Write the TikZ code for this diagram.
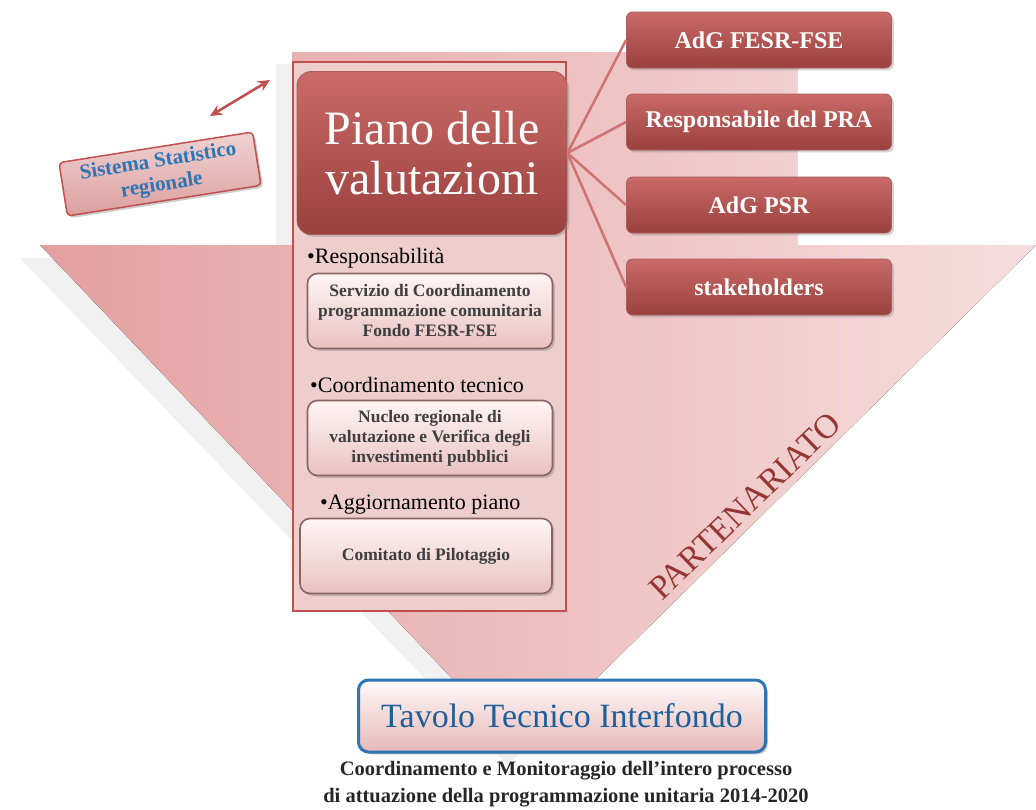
\documentclass[tikz,border=0pt]{standalone}
\usepackage{fontspec}
\setmainfont{Liberation Serif}
\usetikzlibrary{shadows,arrows.meta}
\definecolor{redmain}{HTML}{C0504D}
\definecolor{reddark}{HTML}{943634}
\definecolor{pinkL}{HTML}{E4A0A0}
\definecolor{pinkR}{HTML}{F6DEDE}
\definecolor{bluetxt}{HTML}{2E75B6}
\definecolor{bluedark}{HTML}{1F5F99}
\definecolor{subtxt}{HTML}{3F3F3F}
\tikzset{
  redbox/.style={rounded corners=6pt, draw=reddark!80, line width=0.8pt,
    top color=redmain!85!white, bottom color=redmain!80!black,
    text=white, align=center, drop shadow={opacity=0.35}},
  piano/.style={redbox, minimum width=270pt, minimum height=163pt,
    rounded corners=14pt, font=\fontsize{48}{50}\selectfont},
  rbox/.style={redbox, minimum width=265pt, minimum height=56pt,
    font=\fontsize{24}{26}\selectfont\bfseries},
  subbox/.style={rounded corners=10pt, draw=reddark!60!black!70, line width=1.6pt,
    top color=white!85!pink, bottom color=redmain!35!white,
    text=subtxt, align=center, minimum width=245pt, minimum height=75pt, inner sep=2pt,
    font=\fontsize{17.5}{20}\selectfont\bfseries, drop shadow={opacity=0.4}},
  bullet/.style={anchor=west, font=\fontsize{22}{24}\selectfont, text=black, inner sep=0pt},
  conn/.style={draw=redmain!80!white, line width=2.5pt},
}
\begin{document}
\begin{tikzpicture}[x=1pt,y=-1pt]
\useasboundingbox (0,0) rectangle (1036,809);
% shadow of background block arrow
\fill[gray!45, opacity=0.25] (276,64) -- (785,64) -- (785,258) -- (1020,258) -- (508,765) -- (20,258) -- (276,258) -- cycle;
% background block arrow
\fill[left color=pinkL, right color=pinkR] (292,52) -- (797,52) -- (797,245) -- (1036,245) -- (522,752) -- (40,245) -- (292,245) -- cycle;
% frame
\draw[redmain, line width=2pt, fill=redmain!28!white] (293,62) rectangle (566,611);

% main box
\node[piano] (piano) at (432,153) {Piano delle\\valutazioni};

% right boxes
\node[rbox] (a1) at (759,40) {AdG FESR-FSE};
\node[rbox] (a2) at (759,122) {Responsabile del PRA};
\node[rbox] (a3) at (759,205) {AdG PSR};
\node[rbox] (a4) at (759,287) {stakeholders};
\foreach \n in {a1,a2,a3,a4} \draw[conn] (piano.east) -- (\n.west);

% bullets and sub boxes
\node[bullet] (b1) at (307,258) {\textbullet Responsabilità};
\node[subbox] (s1) at (430,311) {Servizio di Coordinamento\\programmazione comunitaria\\Fondo FESR-FSE};
\node[bullet] (b2) at (310,385) {\textbullet Coordinamento tecnico};
\node[subbox] (s2) at (430,438) {Nucleo regionale di\\valutazione e Verifica degli\\investimenti pubblici};
\node[bullet] (b3) at (320,505) {\textbullet Aggiornamento piano};
\node[subbox, minimum width=252pt] (s3) at (426,556) {Comitato di Pilotaggio};

% Sistema statistico
\node[rounded corners=4pt, draw=redmain, line width=1.5pt, top color=redmain!25!white,
  bottom color=redmain!55!white, drop shadow={opacity=0.4}, minimum width=196pt, minimum height=54pt,
  rotate=9, text=bluetxt, align=center, font=\fontsize{21}{24}\selectfont\bfseries, inner sep=0pt]
  (sis) at (160,174) {Sistema Statistico\\regionale};
\coordinate (arA) at (210,116);
\coordinate (arB) at (270,80);
\draw[redmain, line width=2.5pt, {Stealth[length=12pt,width=11pt]}-{Stealth[length=12pt,width=11pt]}] (arA) -- (arB);

% PARTENARIATO
\node[rotate=44, text=reddark, font=\fontsize{34}{34}\selectfont] (part) at (745,506) {PARTENARIATO};

% Tavolo
\node[rounded corners=10pt, draw=bluetxt, line width=3pt, top color=white!90!pink,
  bottom color=redmain!40!white, drop shadow={opacity=0.45}, minimum width=407pt, minimum height=72pt,
  text=bluedark, font=\fontsize{34}{36}\selectfont] (tav) at (562,716) {Tavolo Tecnico Interfondo};

% bottom text
\node[align=center, font=\fontsize{20.5}{27}\selectfont\bfseries, text=black!85] (cap) at (566,784)
  {Coordinamento e Monitoraggio dell’intero processo\\di attuazione della programmazione unitaria 2014-2020};
\end{tikzpicture}
\end{document}
